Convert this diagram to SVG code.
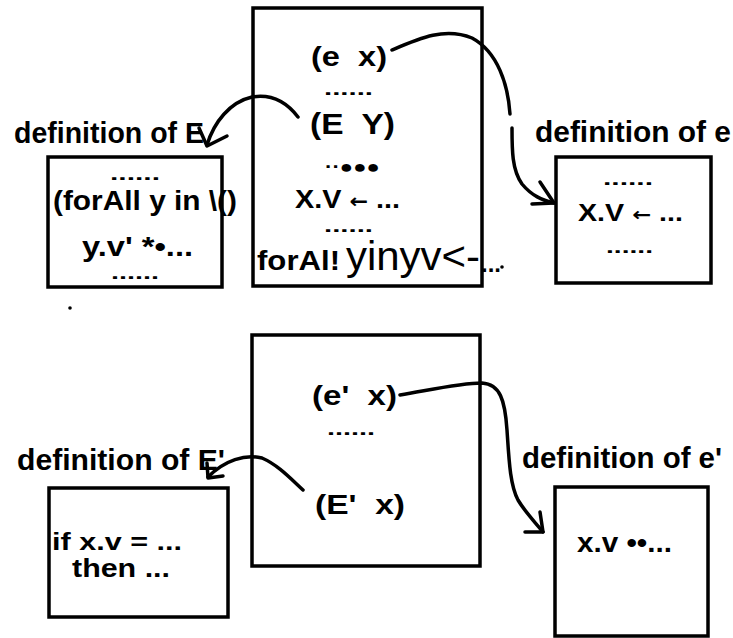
<svg xmlns="http://www.w3.org/2000/svg" width="733" height="638" viewBox="0 0 733 638">
<style>
.box{fill:none;stroke:#000;stroke-width:3.5}
.t{font-family:"Liberation Sans",Arial,sans-serif;font-weight:bold;fill:#000}
.r{font-family:"Liberation Sans",Arial,sans-serif;font-weight:normal;fill:#000}
.dots{font-family:"Liberation Sans",Arial,sans-serif;font-weight:bold;font-size:18px;fill:#000}
.c{fill:none;stroke:#000;stroke-width:3.5;stroke-linecap:round;stroke-linejoin:round}
.ar{font-family:"DejaVu Sans",sans-serif;font-weight:bold}
</style>
<rect width="733" height="638" fill="#fff"/>
<g id="main-top">
<rect class="box" x="253" y="8" width="229" height="278"/>
<text class="t" x="311" y="66" font-size="28" textLength="76" lengthAdjust="spacingAndGlyphs" xml:space="preserve">(e  x)</text>
<text class="dots" x="324" y="95" textLength="49" lengthAdjust="spacingAndGlyphs">......</text>
<text class="t" x="310" y="134" font-size="30" textLength="85" lengthAdjust="spacingAndGlyphs" xml:space="preserve">(E  Y)</text>
<text class="t" x="325" y="173" font-size="18" textLength="55" lengthAdjust="spacingAndGlyphs">··●●●</text>
<text class="t" x="295" y="208" font-size="26" textLength="105" lengthAdjust="spacingAndGlyphs">X.V <tspan class="ar" font-size="20">←</tspan> ...</text>
<text class="dots" x="324" y="232" textLength="49" lengthAdjust="spacingAndGlyphs">......</text>
<text class="t" x="257" y="270" font-size="28" textLength="83" lengthAdjust="spacingAndGlyphs">forAl!</text>
<text class="r" x="346" y="270" font-size="40" textLength="134" lengthAdjust="spacingAndGlyphs">yinyv&lt;-</text>
<text class="t" x="481" y="272" font-size="24">...</text>
</g>
<g id="def-E">
<text class="t" x="14" y="143" font-size="29" textLength="190" lengthAdjust="spacingAndGlyphs">definition of E</text>
<rect class="box" x="48" y="157" width="174" height="130"/>
<text class="dots" x="110" y="180" textLength="50" lengthAdjust="spacingAndGlyphs">......</text>
<text class="t" x="53" y="210" font-size="27" textLength="184" lengthAdjust="spacingAndGlyphs">(forAll y in \()</text>
<text class="t" x="82" y="256" font-size="27" textLength="111" lengthAdjust="spacingAndGlyphs">y.v' *•...</text>
<text class="dots" x="111" y="279" textLength="48" lengthAdjust="spacingAndGlyphs">......</text>
</g>
<g id="def-e">
<text class="t" x="535" y="142" font-size="29" textLength="196" lengthAdjust="spacingAndGlyphs">definition of e</text>
<rect class="box" x="556" y="157" width="155" height="126"/>
<text class="dots" x="603" y="185" textLength="50" lengthAdjust="spacingAndGlyphs">......</text>
<text class="t" x="578" y="221" font-size="24" textLength="105" lengthAdjust="spacingAndGlyphs">X.V <tspan class="ar" font-size="19">←</tspan> ...</text>
<text class="dots" x="606" y="253" textLength="47" lengthAdjust="spacingAndGlyphs">......</text>
</g>
<g id="main-bottom">
<rect class="box" x="252" y="335" width="228" height="231"/>
<text class="t" x="312" y="405" font-size="27" textLength="85" lengthAdjust="spacingAndGlyphs" xml:space="preserve">(e'  x)</text>
<text class="dots" x="327" y="435" textLength="48" lengthAdjust="spacingAndGlyphs">......</text>
<text class="t" x="315" y="514" font-size="27" textLength="90" lengthAdjust="spacingAndGlyphs" xml:space="preserve">(E'  x)</text>
</g>
<g id="def-E2">
<text class="t" x="17" y="470" font-size="29" textLength="208" lengthAdjust="spacingAndGlyphs">definition of E'</text>
<rect class="box" x="49" y="488" width="179" height="129"/>
<text class="t" x="52" y="550" font-size="24" textLength="130" lengthAdjust="spacingAndGlyphs">if x.v = ...</text>
<text class="t" x="72" y="577" font-size="25" textLength="98" lengthAdjust="spacingAndGlyphs">then ...</text>
</g>
<g id="def-e2">
<text class="t" x="522" y="468" font-size="29" textLength="200" lengthAdjust="spacingAndGlyphs">definition of e'</text>
<rect class="box" x="555" y="487" width="153" height="149"/>
<text class="t" x="577" y="552" font-size="28" textLength="95" lengthAdjust="spacingAndGlyphs">x.v ••...</text>
</g>
<g id="marks">
<circle cx="70" cy="308" r="1.8" fill="#000"/>
<circle cx="502" cy="267" r="1.8" fill="#000"/>
</g>
<g id="connectors">
<path class="c" d="M392,50 C420,38 445,27 472,38 C498,52 508,85 510,114"/>
<path class="c" d="M512,128 C512,150 512,170 522,184 C532,196 542,200 554,203"/>
<path class="c" d="M540,182 L554,203 L532,204"/>
<path class="c" d="M298,117 C285,100 270,94 252,97 C230,102 214,122 207,145"/>
<path class="c" d="M199,128 L207,146 L227,136"/>
<path class="c" d="M400,395 C430,390 460,383 482,383 C500,384 505,400 507,430 C509,460 510,485 518,500 C525,512 535,522 543,532"/>
<path class="c" d="M540,512 L543,532 L525,532"/>
<path class="c" d="M303,490 C290,478 278,465 262,458 C245,454 225,460 208,477"/>
<path class="c" d="M207,463 L208,478 L223,476"/>
</g>
</svg>
